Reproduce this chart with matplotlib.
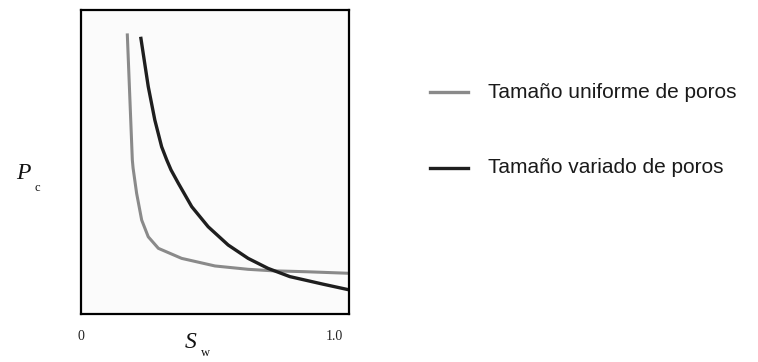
import matplotlib
matplotlib.use("Agg")
import matplotlib.pyplot as plt
from matplotlib.lines import Line2D

# Data
sw_uniforme = [0.183, 0.194, 0.203, 0.206, 0.220, 0.240, 0.266, 0.306, 0.398, 0.530, 0.661, 0.760, 0.892, 1.057]
pc_uniforme = [9.23, 6.94, 5.07, 4.80, 3.97, 3.09, 2.54, 2.16, 1.83, 1.58, 1.47, 1.42, 1.39, 1.34]
sw_variado = [0.236, 0.266, 0.292, 0.319, 0.339, 0.356, 0.385, 0.438, 0.503, 0.582, 0.661, 0.740, 0.826, 0.958, 1.063]
pc_variado = [9.12, 7.48, 6.38, 5.50, 5.07, 4.74, 4.30, 3.53, 2.87, 2.27, 1.83, 1.50, 1.23, 0.98, 0.79]
legend_labels = ["Tamaño uniforme de poros", "Tamaño variado de poros"]
tick_labels = ["0", "1.0"]

W, H = 758, 362
fig = plt.figure(figsize=(W / 100, H / 100), dpi=100)
fig.patch.set_facecolor("white")

def fx(px):
    return px / W

def fy(py):
    return 1 - py / H

ax = fig.add_axes([fx(81), fy(314), fx(349) - fx(81), fy(10) - fy(314)])
ax.set_xlim(0, 1.06)
ax.set_ylim(0, 10)
ax.set_xticks([])
ax.set_yticks([])
ax.set_facecolor("#fbfbfb")
for s in ax.spines.values():
    s.set_linewidth(1.6)
    s.set_color("black")

c_uni = "#8a8a8a"
c_var = "#1e1e1e"
ax.plot(sw_uniforme, pc_uniforme, color=c_uni, lw=2.2, solid_capstyle="butt", solid_joinstyle="round")
ax.plot(sw_variado, pc_variado, color=c_var, lw=2.4, solid_capstyle="butt", solid_joinstyle="round")

serif = "Liberation Serif"
# tick labels
fig.text(fx(81), fy(337), tick_labels[0], family=serif, fontsize=10, ha="center", va="center", color="#222222")
fig.text(fx(334), fy(337), tick_labels[1], family=serif, fontsize=10, ha="center", va="center", color="#222222")
# axis labels
fig.text(fx(191), fy(342), "S", family=serif, style="italic", fontsize=17, ha="center", va="center", color="#111111")
fig.text(fx(205), fy(353), "w", family=serif, fontsize=9, ha="center", va="center", color="#111111")
fig.text(fx(23), fy(173), "P", family=serif, style="italic", fontsize=17, ha="center", va="center", color="#111111")
fig.text(fx(37), fy(188), "c", family=serif, fontsize=9, ha="center", va="center", color="#111111")

# legend
sans = "Liberation Sans"
for (py, col, lab) in [(92, c_uni, legend_labels[0]), (168, c_var, legend_labels[1])]:
    fig.add_artist(Line2D([fx(430), fx(468)], [fy(py), fy(py)], color=col, lw=2.4,
                          transform=fig.transFigure))
    fig.text(fx(488), fy(py), lab, family=sans, fontsize=15, ha="left", va="center", color="#1a1a1a")

fig.savefig("out.png", dpi=100)
